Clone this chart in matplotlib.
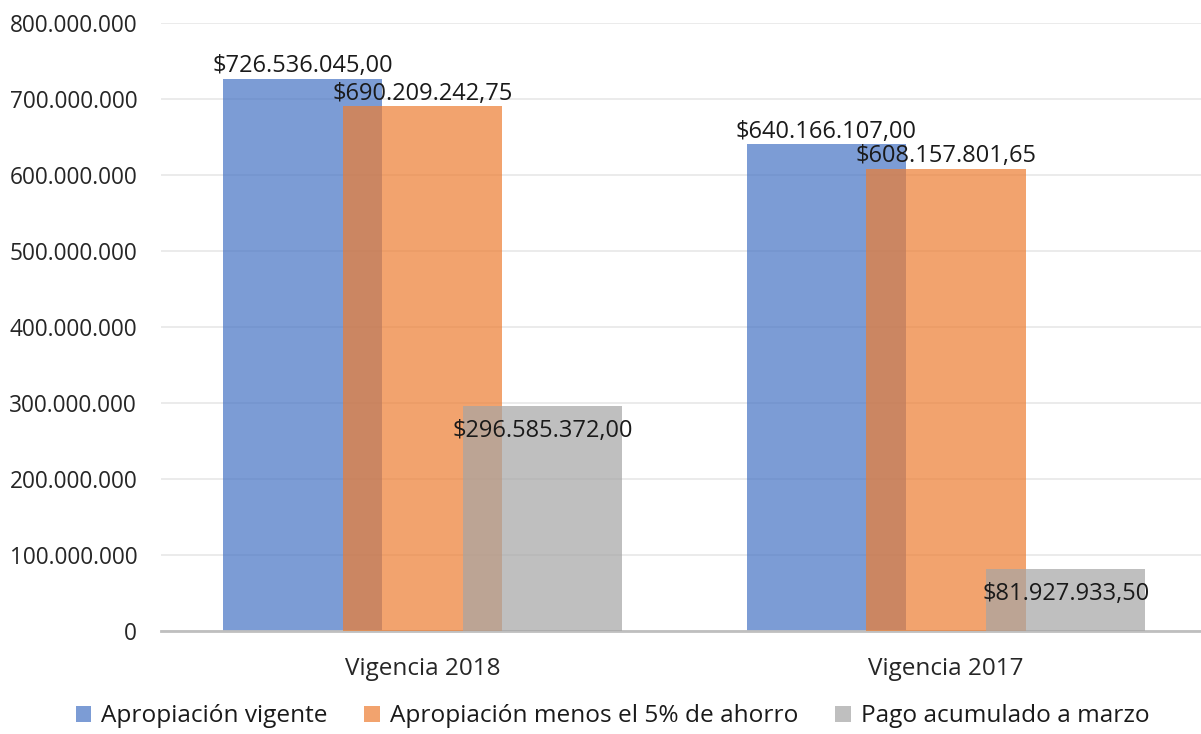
import numpy as np
import matplotlib.pyplot as plt
from matplotlib.patches import Patch

plt.rcParams['font.family'] = ['Open Sans', 'DejaVu Sans']

categories = ["Vigencia 2018", "Vigencia 2017"]
series_names = ["Apropiación vigente", "Apropiación menos el 5% de ahorro", "Pago acumulado a marzo"]
apropiacion = [726536045.00, 640166107.00]
apropiacion_menos = [690209242.75, 608157801.65]
pago_marzo = [296585372.00, 81927933.50]
colors = ["#4472C4", "#ED7D31", "#A5A5A5"]


def fmt_money(v):
    s = "{:,.2f}".format(v)
    s = s.replace(",", "X").replace(".", ",").replace("X", ".")
    return "$" + s


def fmt_axis(v, pos):
    return "{:,.0f}".format(v).replace(",", ".")


fig = plt.figure(figsize=(12.01, 7.34), dpi=100)
ax = fig.add_axes([160.75 / 1201, 103 / 734, 1047 / 1201, 608 / 734])

x = np.arange(len(categories))
width = 0.304
offset = 0.229
data = [apropiacion, apropiacion_menos, pago_marzo]

for i, vals in enumerate(data):
    pos = x + (i - 1) * offset
    ax.bar(pos, vals, width=width, color=colors[i], alpha=0.7, zorder=2 + i)
    for p, v in zip(pos, vals):
        if i == 2:
            ax.annotate(fmt_money(v), (p, v), xytext=(0, -9.5), textcoords="offset points",
                        ha="center", va="top", fontsize=17, color="#1a1a1a", zorder=10)
        else:
            ax.annotate(fmt_money(v), (p, v), xytext=(0, 0.5), textcoords="offset points",
                        ha="center", va="bottom", fontsize=17, color="#1a1a1a", zorder=10)

ax.set_xlim(-0.5, 1.5)
ax.set_ylim(0, 800000000)
ax.set_yticks(np.arange(0, 800000001, 100000000))
ax.yaxis.set_major_formatter(plt.FuncFormatter(fmt_axis))
ax.set_xticks(x)
ax.set_xticklabels(categories)
ax.tick_params(axis="both", length=0, colors="#262626")
ax.tick_params(axis="y", pad=17, labelsize=16.3)
ax.tick_params(axis="x", pad=19, labelsize=17.5)
ax.grid(axis="y", color="#e8e8e8", linewidth=1.2, zorder=0)
ax.set_axisbelow(True)
for side in ["top", "right", "left"]:
    ax.spines[side].set_visible(False)
ax.spines["bottom"].set_color("#bfbfbf")
ax.spines["bottom"].set_linewidth(2)

handles = [Patch(facecolor=c, alpha=0.7) for c in colors]
fig.legend(handles, series_names, loc="center", bbox_to_anchor=(0.51, 0.024), ncol=3,
           frameon=False, fontsize=17.6, handlelength=0.65, handleheight=0.65,
           handletextpad=0.4, columnspacing=1.5, labelcolor="#1a1a1a")

fig.savefig("out.png", dpi=100)
